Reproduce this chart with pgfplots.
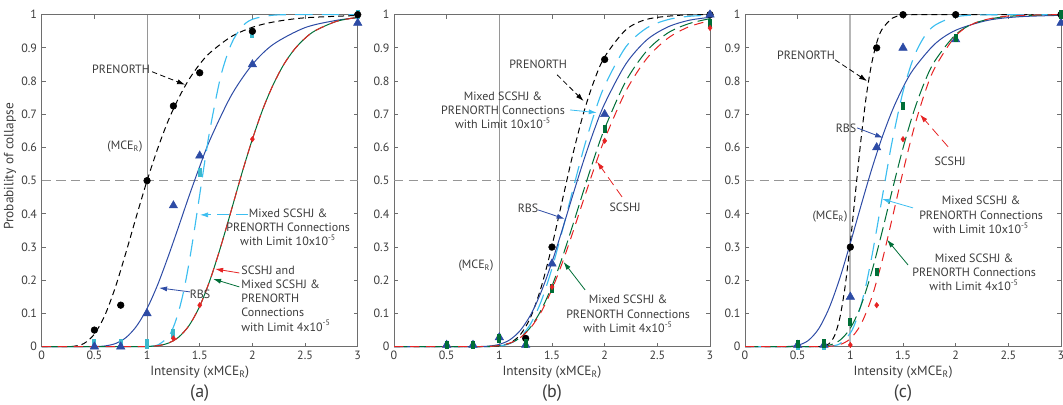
\documentclass[border=0pt]{standalone}
\usepackage{fontspec}
\setmainfont{PT Sans}
\usepackage{pgfplots}
\pgfplotsset{compat=1.18}
\usetikzlibrary{arrows.meta}
\definecolor{txt}{RGB}{60,60,60}
\definecolor{axg}{RGB}{110,110,110}
\definecolor{gridg}{RGB}{150,150,150}
\definecolor{cblue}{RGB}{45,75,165}
\definecolor{ccyan}{RGB}{60,190,240}
\definecolor{ccyanm}{RGB}{60,185,205}
\definecolor{cred}{RGB}{230,35,35}
\definecolor{cgreen}{RGB}{0,110,55}
\tikzset{
 ann/.style={font=\fontsize{9}{10.6}\selectfont, text=txt, inner sep=0pt, align=center},
 arr/.style={-{Latex[length=6pt,width=3.8pt]}, line width=0.6pt},
}
\pgfplotsset{
 panel/.style={
  scale only axis, width=237pt, height=249pt, anchor=south west,
  xmin=0,xmax=3,ymin=0,ymax=1, clip=false,
  /pgf/number format/assume math mode=true,
  xtick={0,0.5,1,1.5,2,2.5,3}, xticklabels={0,0.5,1,1.5,2,2.5,3},
  ytick={0,0.1,0.2,0.3,0.4,0.5,0.6,0.7,0.8,0.9,1},
  yticklabels={0,0.1,0.2,0.3,0.4,0.5,0.6,0.7,0.8,0.9,1},
  axis line style={draw=axg, line width=0.75pt},
  major tick style={draw=axg, line width=0.6pt}, major tick length=3pt,
  tick label style={font=\fontsize{9}{10}\selectfont, text=txt},
  xlabel={Intensity (xMCE\textsubscript{R})},
  xlabel style={at={(axis description cs:0.5,-0.0783)}, anchor=center, font=\fontsize{10}{11}\selectfont, text=txt},
 },
 blk/.style={black, line width=0.75pt, dash pattern=on 4.5pt off 3pt, smooth, no marks},
 blu/.style={cblue, line width=0.75pt, smooth, no marks},
 cya/.style={ccyan, line width=0.85pt, dash pattern=on 13pt off 7pt, smooth, no marks},
 rdd/.style={cred, line width=0.75pt, dash pattern=on 7pt off 5pt, smooth, no marks},
 grn/.style={cgreen, line width=0.75pt, dash pattern=on 10pt off 4pt, smooth, no marks},
 mcirc/.style={only marks, mark=*, mark size=2.5pt, black},
 mtri/.style={only marks, mark=triangle*, mark size=3.6pt, cblue},
 mcy/.style={only marks, mark=|, mark size=3.5pt, mark options={line width=3pt, ccyanm}},
 mgr/.style={only marks, mark=|, mark size=3.2pt, mark options={line width=3pt, cgreen}},
 mdia/.style={only marks, mark=diamond*, mark size=2pt, cred},
 vline/.style={gridg, line width=0.75pt, no marks},
 hline/.style={gridg, line width=0.75pt, dash pattern=on 7pt off 4pt, no marks},
}
\begin{document}
\begin{tikzpicture}
% ---------------- (a)
\begin{axis}[panel, at={(31.3pt,43pt)},
  ylabel={Probability of collapse},
  ylabel style={at={(axis description cs:-0.1,0.543)}, anchor=center, inner sep=0pt, font=\fontsize{10}{11}\selectfont, text=txt}]
\addplot[vline] coordinates {(1,0)(1,1)};
\addplot[hline] coordinates {(0,0.5)(3,0.5)};
\addplot[blk] coordinates {(0,0)(0.2,0)(0.3,0.001)(0.4,0.0094)(0.5,0.0378)(0.6,0.095)(0.7,0.180)(0.8,0.284)(0.9,0.394)(1,0.5)(1.1,0.596)(1.2,0.680)(1.3,0.749)(1.4,0.806)(1.5,0.851)(1.6,0.886)(1.8,0.934)(2,0.962)(2.2,0.978)(2.5,0.9906)(3,0.9976)};
\addplot[blu] coordinates {(0,0)(0.4,0)(0.5,0.0003)(0.6,0.0022)(0.7,0.0094)(0.8,0.0274)(0.9,0.0618)(1,0.115)(1.1,0.186)(1.2,0.271)(1.3,0.362)(1.4,0.455)(1.5,0.543)(1.6,0.625)(1.8,0.757)(2,0.850)(2.2,0.911)(2.5,0.961)(2.8,0.983)(3,0.9905)};
\addplot[cya] coordinates {(0,0)(0.8,0)(0.9,0)(1,0.0004)(1.1,0.0048)(1.2,0.029)(1.25,0.059)(1.3,0.106)(1.35,0.171)(1.4,0.255)(1.45,0.353)(1.5,0.458)(1.55,0.562)(1.6,0.659)(1.7,0.815)(1.8,0.912)(1.9,0.963)(2,0.986)(2.2,0.9985)(2.5,1)(3,1)};
\addplot[cgreen, line width=0.75pt, smooth, no marks] coordinates {(0,0)(0.8,0)(0.9,0)(1,0.0006)(1.1,0.0029)(1.2,0.0104)(1.3,0.0287)(1.4,0.0643)(1.5,0.122)(1.6,0.203)(1.7,0.302)(1.8,0.411)(1.9,0.522)(2,0.625)(2.1,0.716)(2.2,0.791)(2.3,0.851)(2.4,0.896)(2.5,0.929)(2.6,0.9525)(2.8,0.980)(3,0.992)};
\addplot[rdd] coordinates {(0,0)(0.8,0)(0.9,0)(1,0.0006)(1.1,0.0029)(1.2,0.0104)(1.3,0.0287)(1.4,0.0643)(1.5,0.122)(1.6,0.203)(1.7,0.302)(1.8,0.411)(1.9,0.522)(2,0.625)(2.1,0.716)(2.2,0.791)(2.3,0.851)(2.4,0.896)(2.5,0.929)(2.6,0.9525)(2.8,0.980)(3,0.992)};
\addplot[mcy] coordinates {(0.5,0.008)(0.75,0.008)(1,0.008)(1.25,0.04)(1.5,0.525)(2,0.945)(3,1.0)};
\addplot[mtri] coordinates {(0.5,0)(0.75,0)(1,0.1)(1.25,0.425)(1.5,0.575)(2,0.85)(3,0.975)};
\addplot[mcirc] coordinates {(0.5,0.05)(0.75,0.125)(1,0.5)(1.25,0.725)(1.5,0.825)(2,0.95)(3,1)};
\addplot[mdia] coordinates {(1.25,0.025)(1.5,0.125)(2,0.625)};
\node[ann] at (axis cs:0.753,0.834) {PRENORTH};
\draw[arr, black, dash pattern=on 4pt off 2.5pt] (axis cs:1.048,0.828) -- (axis cs:1.361,0.789);
\node[ann] at (axis cs:0.79,0.602) {(MCE\textsubscript{R})};
\node[ann, anchor=north] at (axis cs:2.339,0.415) {Mixed SCSHJ \&\\PRENORTH Connections\\with Limit 10x10\textsuperscript{-5}};
\draw[arr, ccyan, dash pattern=on 9pt off 5pt] (axis cs:1.959,0.397) -- (axis cs:1.503,0.397);
\draw[arr, cred] (axis cs:1.876,0.222) -- (axis cs:1.646,0.234);
\draw[arr, cgreen] (axis cs:1.876,0.180) -- (axis cs:1.627,0.204);
\node[ann, anchor=north west, align=left] at (axis cs:1.893,0.244) {SCSHJ and\\Mixed SCSHJ \&\\PRENORTH\\Connections\\with Limit 4x10\textsuperscript{-5}};
\node[ann] at (axis cs:1.503,0.159) {RBS};
\draw[arr, cblue] (axis cs:1.408,0.165) -- (axis cs:1.114,0.177);
\node[font=\fontsize{13.5}{15}\selectfont, text=txt] at (axis description cs:0.5,-0.1385) {(a)};
\end{axis}
% ---------------- (b)
\begin{axis}[panel, at={(295.5pt,43pt)}]
\addplot[vline] coordinates {(1,0)(1,1)};
\addplot[hline] coordinates {(0,0.5)(3,0.5)};
\addplot[blk] coordinates {(0,0)(0.7,0)(0.8,0)(0.9,0.0003)(1,0.0023)(1.1,0.0109)(1.2,0.0363)(1.3,0.091)(1.4,0.182)(1.5,0.304)(1.6,0.4435)(1.7,0.582)(1.8,0.704)(1.9,0.801)(2,0.873)(2.2,0.954)(2.4,0.986)(2.7,0.998)(3,1)};
\addplot[cya] coordinates {(0,0)(0.7,0)(0.8,0)(0.9,0.0003)(1,0.0022)(1.1,0.0093)(1.2,0.029)(1.3,0.0704)(1.4,0.139)(1.5,0.236)(1.6,0.352)(1.7,0.475)(1.8,0.595)(1.9,0.700)(2,0.786)(2.2,0.9025)(2.4,0.960)(2.6,0.985)(2.8,0.995)(3,0.998)};
\addplot[blu] coordinates {(0,0)(0.6,0)(0.7,0)(0.8,0.0003)(0.9,0.0017)(1,0.0069)(1.1,0.0207)(1.2,0.0493)(1.3,0.0975)(1.4,0.167)(1.5,0.255)(1.6,0.355)(1.7,0.459)(1.8,0.560)(1.9,0.652)(2,0.732)(2.2,0.851)(2.4,0.924)(2.6,0.963)(2.8,0.983)(3,0.992)};
\addplot[grn] coordinates {(0,0)(0.7,0)(0.8,0.0001)(0.9,0.0007)(1,0.003)(1.1,0.0103)(1.2,0.0276)(1.3,0.0601)(1.4,0.112)(1.5,0.183)(1.6,0.271)(1.7,0.369)(1.8,0.470)(1.9,0.568)(2,0.657)(2.2,0.799)(2.4,0.891)(2.6,0.945)(2.8,0.973)(3,0.988)};
\addplot[rdd] coordinates {(0,0)(0.7,0)(0.8,0.0001)(0.9,0.0007)(1,0.0033)(1.1,0.0107)(1.2,0.0274)(1.3,0.058)(1.4,0.106)(1.5,0.173)(1.6,0.2545)(1.7,0.3465)(1.8,0.443)(1.9,0.537)(2,0.625)(2.2,0.769)(2.4,0.868)(2.6,0.929)(2.8,0.9636)(3,0.982)};
\addplot[mcirc] coordinates {(1.25,0.025)(1.5,0.3)(2,0.865)(3,1)};
\addplot[mtri] coordinates {(0.5,0.005)(0.75,0.005)(1,0.028)(1.25,0.005)(1.5,0.25)(2,0.7)(3,1.0)};
\addplot[mgr] coordinates {(0.5,0.005)(0.75,0.005)(1,0.025)(1.25,0.01)(1.5,0.175)(2,0.655)(3,0.975)};
\addplot[mdia] coordinates {(1.5,0.18)(2,0.62)(3,0.96)};
\node[ann] at (axis cs:1.368,0.849) {PRENORTH};
\draw[arr, black, dash pattern=on 4pt off 2.5pt] (axis cs:1.548,0.819) -- (axis cs:1.80,0.74);
\node[ann] at (axis cs:1.035,0.713) {Mixed SCSHJ \&\\PRENORTH Connections\\with Limit 10x10\textsuperscript{-5}};
\draw[arr, ccyan] (axis cs:1.671,0.713) -- (axis cs:1.925,0.705);
\node[ann] at (axis cs:2.194,0.421) {SCSHJ};
\draw[arr, cred, dash pattern=on 7pt off 4pt] (axis cs:2.165,0.451) -- (axis cs:1.928,0.557);
\node[ann] at (axis cs:1.273,0.418) {RBS};
\draw[arr, cblue] (axis cs:1.368,0.412) -- (axis cs:1.62,0.385);
\node[ann] at (axis cs:0.779,0.243) {(MCE\textsubscript{R})};
\node[ann] at (axis cs:2.222,0.099) {Mixed SCSHJ \&\\PRENORTH Connections\\with Limit 4x10\textsuperscript{-5}};
\draw[arr, cgreen] (axis cs:1.814,0.171) -- (axis cs:1.61,0.255);
\node[font=\fontsize{13.5}{15}\selectfont, text=txt] at (axis description cs:0.5,-0.1385) {(b)};
\end{axis}
% ---------------- (c)
\begin{axis}[panel, at={(558.75pt,43pt)}]
\addplot[gridg!70, line width=1.5pt, no marks] coordinates {(1,0)(1,1)};
\addplot[hline] coordinates {(0,0.5)(3,0.5)};
\addplot[blk] coordinates {(0,0)(0.5,0)(0.6,0)(0.7,0.0003)(0.75,0.002)(0.8,0.0095)(0.85,0.033)(0.9,0.0863)(0.95,0.1806)(1,0.3135)(1.05,0.4685)(1.1,0.621)(1.15,0.7515)(1.2,0.849)(1.25,0.915)(1.3,0.9555)(1.4,0.9898)(1.5,0.998)(1.7,1)(3,1)};
\addplot[blu] coordinates {(0,0)(0.2,0)(0.3,0)(0.4,0.0004)(0.5,0.004)(0.6,0.0184)(0.7,0.0542)(0.8,0.1175)(0.9,0.206)(1,0.312)(1.1,0.4235)(1.2,0.5315)(1.3,0.629)(1.4,0.7126)(1.5,0.781)(1.6,0.836)(1.8,0.911)(2,0.953)(2.3,0.9826)(2.6,0.9937)(3,0.998)};
\addplot[cya] coordinates {(0,0)(0.6,0)(0.7,0.0001)(0.8,0.001)(0.9,0.0086)(1,0.041)(1.05,0.0748)(1.1,0.1235)(1.15,0.1876)(1.2,0.265)(1.25,0.3525)(1.3,0.4447)(1.35,0.536)(1.4,0.623)(1.5,0.768)(1.6,0.870)(1.7,0.9327)(1.8,0.9675)(2,0.9936)(2.3,0.9996)(3,1)};
\addplot[grn] coordinates {(0,0)(0.5,0)(0.6,0)(0.7,0.0007)(0.8,0.0045)(0.9,0.019)(1,0.0555)(1.1,0.1228)(1.2,0.222)(1.3,0.344)(1.4,0.474)(1.5,0.598)(1.6,0.706)(1.7,0.793)(1.8,0.8595)(2,0.940)(2.2,0.9767)(2.5,0.995)(3,0.9997)};
\addplot[rdd] coordinates {(0,0)(0.6,0)(0.7,0.0001)(0.8,0.001)(0.9,0.006)(1,0.0239)(1.1,0.067)(1.2,0.145)(1.3,0.256)(1.4,0.39)(1.5,0.527)(1.6,0.653)(1.7,0.758)(1.8,0.8387)(2,0.936)(2.2,0.977)(2.5,0.996)(3,1)};
\addplot[mcirc] coordinates {(1,0.3)(1.25,0.9)(1.5,1)(2,1)(3,1)};
\addplot[mcy] coordinates {(0.5,0.005)(0.75,0.005)};
\addplot[mtri] coordinates {(0.5,0.005)(0.75,0.005)(1,0.15)(1.25,0.6)(1.5,0.9)(2,0.925)(3,0.975)};
\addplot[mdia] coordinates {(1,0.005)(1.25,0.125)(1.5,0.625)(2,0.93)(3,1)};
\addplot[mgr] coordinates {(0.5,0.008)(0.75,0.01)(1,0.075)(1.25,0.225)(1.5,0.725)(2,0.93)(3,1)};
\node[ann] at (axis cs:0.579,0.879) {PRENORTH};
\draw[arr, black, dash pattern=on 4pt off 2.5pt] (axis cs:0.855,0.864) -- (axis cs:1.159,0.80);
\node[ann] at (axis cs:0.959,0.659) {RBS};
\draw[arr, cblue] (axis cs:1.064,0.659) -- (axis cs:1.311,0.629);
\node[ann] at (axis cs:1.947,0.557) {SCSHJ};
\draw[arr, cred, dash pattern=on 7pt off 4pt] (axis cs:1.928,0.602) -- (axis cs:1.662,0.699);
\node[ann] at (axis cs:2.241,0.397) {Mixed SCSHJ \&\\PRENORTH Connections\\with Limit 10x10\textsuperscript{-5}};
\draw[arr, ccyan] (axis cs:1.595,0.418) -- (axis cs:1.301,0.445);
\node[ann] at (axis cs:2.175,0.225) {Mixed SCSHJ \&\\PRENORTH Connections\\with Limit 4x10\textsuperscript{-5}};
\draw[arr, cgreen] (axis cs:1.548,0.246) -- (axis cs:1.349,0.322);
\node[ann] at (axis cs:0.807,0.391) {(MCE\textsubscript{R})};
\node[font=\fontsize{13.5}{15}\selectfont, text=txt] at (axis description cs:0.5,-0.1385) {(c)};
\end{axis}
\pgfresetboundingbox
\path[use as bounding box] (0,0) rectangle (797.25pt,303pt);
\end{tikzpicture}
\end{document}
